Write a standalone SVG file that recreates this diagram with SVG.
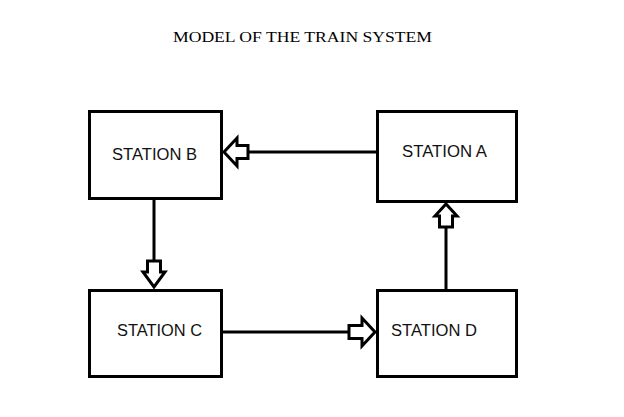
<svg xmlns="http://www.w3.org/2000/svg" width="624" height="417" viewBox="0 0 624 417">
<style>
.box{fill:#fff;stroke:#000;stroke-width:3}
.lbl{font-family:"Liberation Sans","Open Sans",sans-serif;font-size:16px;fill:#111}
.line{stroke:#000;stroke-width:3;fill:none}
.arr{fill:#fff;stroke:#000;stroke-width:3;stroke-linejoin:miter}
</style>
<rect width="624" height="417" fill="#fff"/>
<text x="173" y="42" font-family="Liberation Serif,serif" font-size="15.5" textLength="259" lengthAdjust="spacingAndGlyphs" fill="#000">MODEL OF THE TRAIN SYSTEM</text>
<g id="connectors">
  <line class="line" x1="378" y1="152" x2="248" y2="152"/>
  <polygon class="arr" points="248,145.5 237,145.5 237,138 224,152 237,166 237,158.5 248,158.5"/>
  <line class="line" x1="154" y1="199" x2="154" y2="261"/>
  <polygon class="arr" points="147.5,261 147.5,272 143,272 154,287 165,272 160.5,272 160.5,261"/>
  <line class="line" x1="222" y1="332" x2="349" y2="332"/>
  <polygon class="arr" points="349,325.5 362,325.5 362,318 375,332 362,346 362,338.5 349,338.5"/>
  <line class="line" x1="446" y1="290" x2="446" y2="227"/>
  <polygon class="arr" points="439.5,227 439.5,216 435,216 446,204 457,216 452.5,216 452.5,227"/>
</g>
<g id="station-b">
  <rect class="box" x="89.5" y="111.5" width="132" height="87"/>
  <text class="lbl" x="112" y="160" textLength="85" lengthAdjust="spacingAndGlyphs">STATION B</text>
</g>
<g id="station-a">
  <rect class="box" x="377.5" y="111.5" width="139" height="90"/>
  <text class="lbl" x="402" y="157" textLength="85" lengthAdjust="spacingAndGlyphs">STATION A</text>
</g>
<g id="station-c">
  <rect class="box" x="89.5" y="290.5" width="132" height="86"/>
  <text class="lbl" x="117" y="336" textLength="85" lengthAdjust="spacingAndGlyphs">STATION C</text>
</g>
<g id="station-d">
  <rect class="box" x="377.5" y="290.5" width="139" height="86"/>
  <text class="lbl" x="391" y="336" textLength="86" lengthAdjust="spacingAndGlyphs">STATION D</text>
</g>
</svg>
